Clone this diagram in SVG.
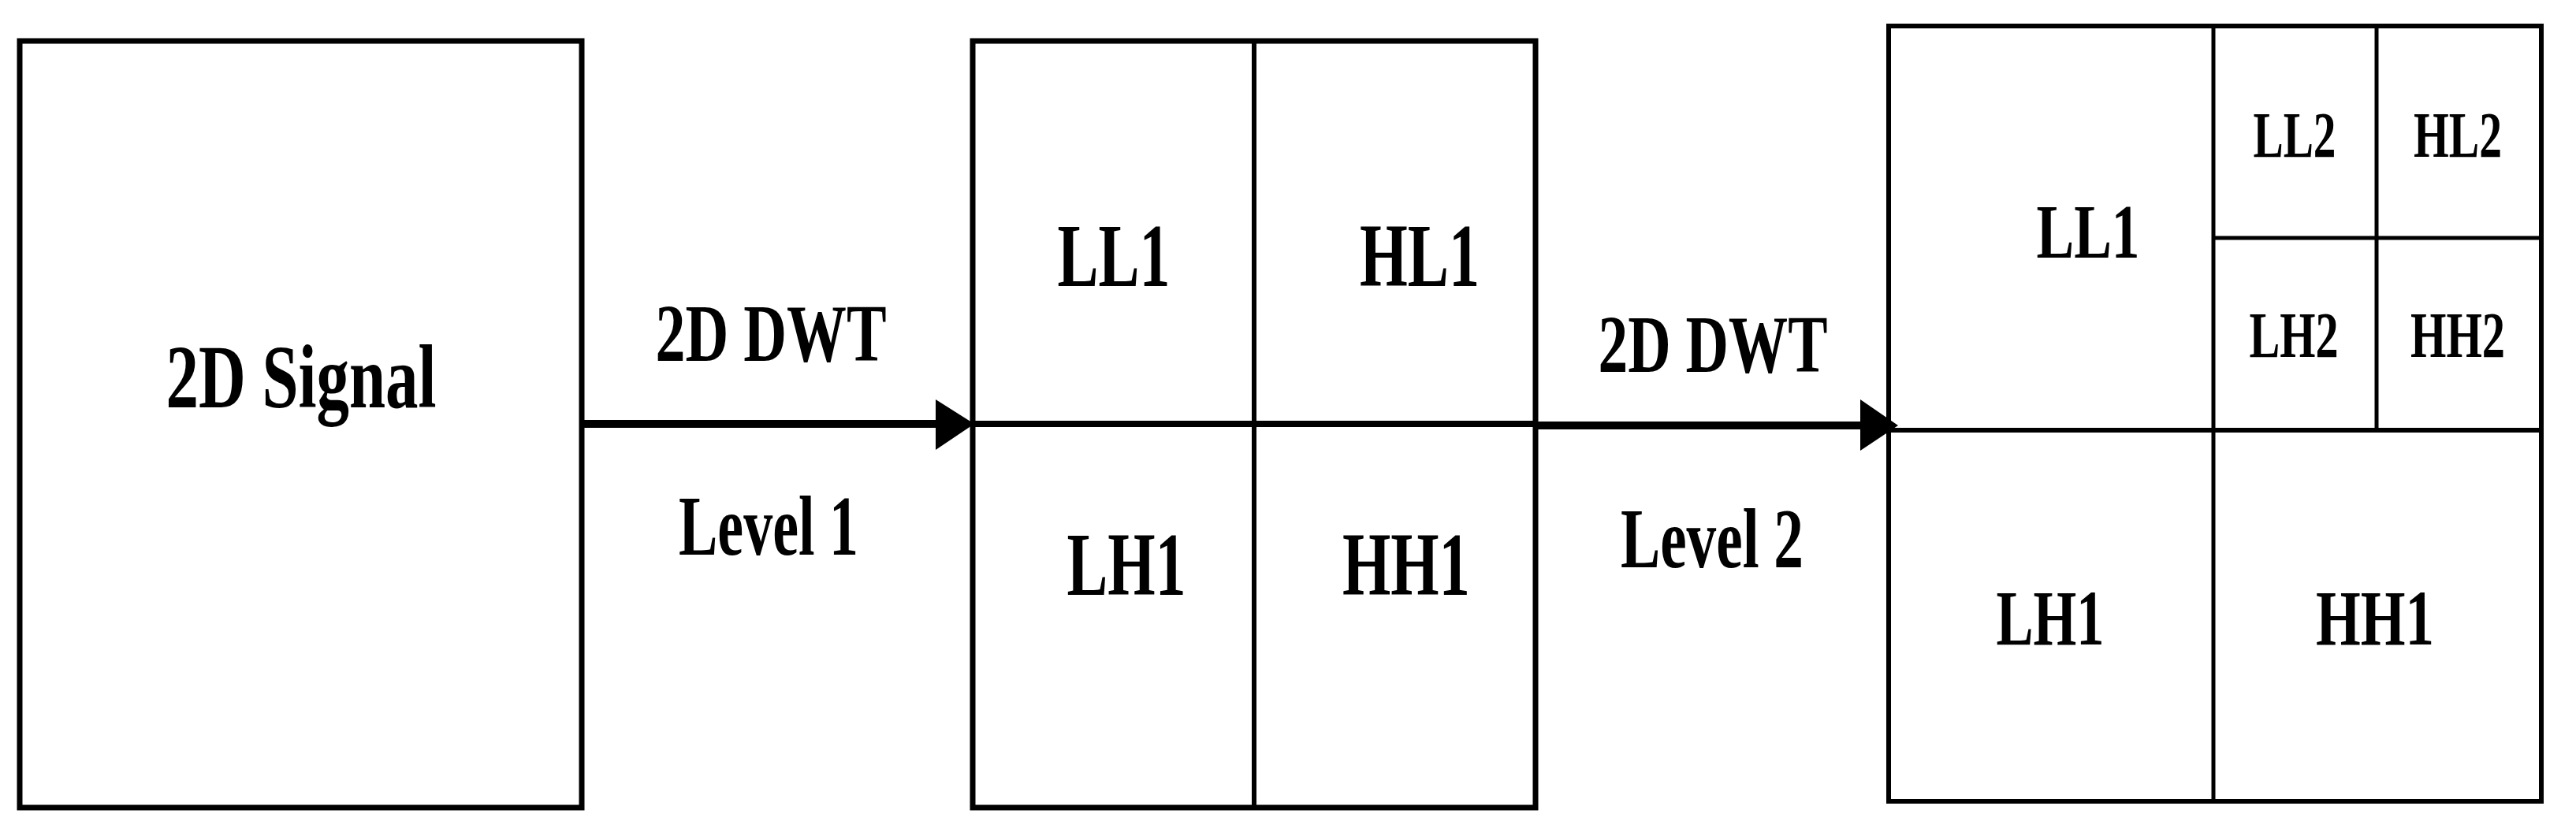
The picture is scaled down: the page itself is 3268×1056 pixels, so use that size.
<svg xmlns="http://www.w3.org/2000/svg" width="3268" height="1056" viewBox="0 0 3268 1056">
<style>
.bg{fill:#ffffff}
.box{fill:#ffffff;stroke:#000000}
.ln{stroke:#000000;fill:none}
.t{font-family:"Liberation Serif","Times New Roman",serif;font-weight:bold;fill:#000000;text-anchor:middle}
.head{fill:#000000}
</style>
<rect class="bg" x="0" y="0" width="3268" height="1056"/>
<g id="signal">
<rect class="box" x="25" y="52" width="713" height="973" stroke-width="7"/>
<text class="t" x="382" y="517" font-size="115" textLength="343" lengthAdjust="spacingAndGlyphs">2D Signal</text>
</g>
<g id="level1">
<rect class="box" x="1234" y="52" width="714" height="973" stroke-width="7"/>
<line class="ln" x1="1591" y1="52" x2="1591" y2="1025" stroke-width="6"/>
<line class="ln" x1="1234" y1="538" x2="1948" y2="538" stroke-width="8"/>
<text class="t" x="1413" y="363" font-size="115" textLength="143" lengthAdjust="spacingAndGlyphs">LL1</text>
<text class="t" x="1801" y="363" font-size="115" textLength="152" lengthAdjust="spacingAndGlyphs">HL1</text>
<text class="t" x="1429" y="755" font-size="115" textLength="151" lengthAdjust="spacingAndGlyphs">LH1</text>
<text class="t" x="1784" y="755" font-size="115" textLength="162" lengthAdjust="spacingAndGlyphs">HH1</text>
</g>
<g id="level2">
<rect class="box" x="2396" y="33" width="828" height="984" stroke-width="6"/>
<line class="ln" x1="2808" y1="33" x2="2808" y2="1017" stroke-width="5"/>
<line class="ln" x1="2396" y1="546" x2="3224" y2="546" stroke-width="6"/>
<line class="ln" x1="3015" y1="33" x2="3015" y2="546" stroke-width="5"/>
<line class="ln" x1="2808" y1="302" x2="3224" y2="302" stroke-width="5"/>
<text class="t" x="2649" y="327" font-size="98" textLength="131" lengthAdjust="spacingAndGlyphs">LL1</text>
<text class="t" x="2911" y="199" font-size="82" textLength="105" lengthAdjust="spacingAndGlyphs">LL2</text>
<text class="t" x="3118" y="199" font-size="82" textLength="112" lengthAdjust="spacingAndGlyphs">HL2</text>
<text class="t" x="2910" y="453" font-size="82" textLength="113" lengthAdjust="spacingAndGlyphs">LH2</text>
<text class="t" x="3118" y="453" font-size="82" textLength="120" lengthAdjust="spacingAndGlyphs">HH2</text>
<text class="t" x="2601" y="818" font-size="100" textLength="137" lengthAdjust="spacingAndGlyphs">LH1</text>
<text class="t" x="3013" y="818" font-size="100" textLength="150" lengthAdjust="spacingAndGlyphs">HH1</text>
</g>
<g id="connectors">
<line class="ln" x1="738" y1="538" x2="1190" y2="538" stroke-width="10"/>
<polygon class="head" points="1187,507 1236,538 1187,571"/>
<text class="t" x="978" y="458" font-size="104" textLength="293" lengthAdjust="spacingAndGlyphs">2D DWT</text>
<text class="t" x="975" y="704" font-size="108" textLength="228" lengthAdjust="spacingAndGlyphs">Level 1</text>
<line class="ln" x1="1948" y1="540" x2="2362" y2="540" stroke-width="10"/>
<polygon class="head" points="2360,507 2408,540 2360,572"/>
<text class="t" x="2173" y="472" font-size="104" textLength="291" lengthAdjust="spacingAndGlyphs">2D DWT</text>
<text class="t" x="2172" y="720" font-size="108" textLength="232" lengthAdjust="spacingAndGlyphs">Level 2</text>
</g>
</svg>
